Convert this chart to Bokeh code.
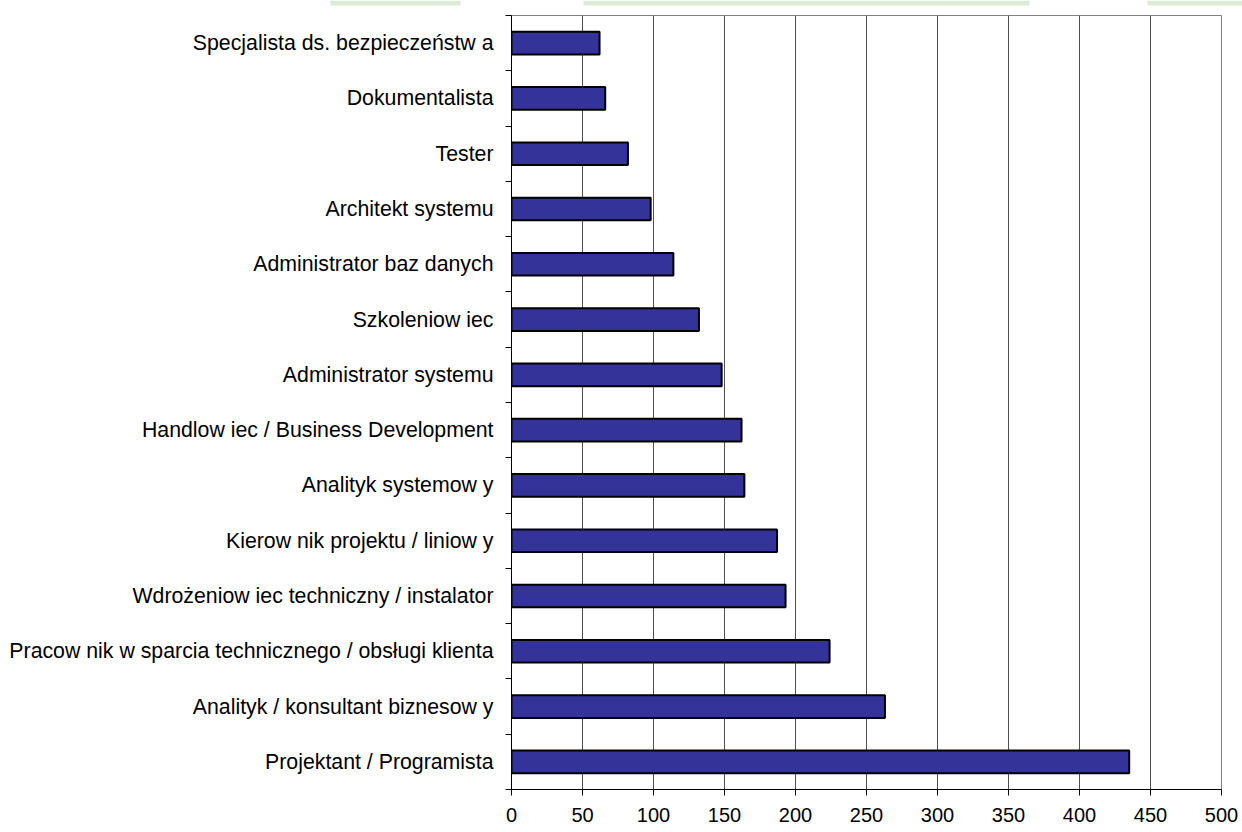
from bokeh.plotting import figure
from bokeh.models import Range1d, FixedTicker, ColumnDataSource
from bokeh.layouts import column
from bokeh.embed import file_html
from bokeh.resources import INLINE

# categories from top to bottom as shown
categories = [
    "Specjalista ds. bezpieczeństw a",
    "Dokumentalista",
    "Tester",
    "Architekt systemu",
    "Administrator baz danych",
    "Szkoleniow iec",
    "Administrator systemu",
    "Handlow iec / Business Development",
    "Analityk systemow y",
    "Kierow nik projektu / liniow y",
    "Wdrożeniow iec techniczny / instalator",
    "Pracow nik w sparcia technicznego / obsługi klienta",
    "Analityk / konsultant biznesow y",
    "Projektant / Programista",
]
values = [62, 66, 82, 98, 114, 132, 148, 162, 164, 187, 193, 224, 263, 435]
x_ticks = [0, 50, 100, 150, 200, 250, 300, 350, 400, 450, 500]

# faint page decoration strips above the chart (page pixels)
strip_left = [330, 583, 1147]
strip_right = [460, 1029, 1242]

n = len(categories)
ypos = [n - 1 - i + 0.5 for i in range(n)]
source = ColumnDataSource(dict(cat=categories, val=values, y=ypos))

W = 1242
TOP_H = 14
H = 832 - TOP_H

top = figure(width=W, height=TOP_H, output_backend="svg", toolbar_location=None,
             x_range=Range1d(0, W), y_range=Range1d(0, TOP_H),
             x_axis_type=None, y_axis_type=None,
             min_border=0, min_border_left=0, min_border_right=0,
             min_border_top=0, min_border_bottom=0)
top.frame_align = False
top.outline_line_color = None
top.background_fill_color = "white"
top.border_fill_color = "white"
top.xgrid.visible = False
top.ygrid.visible = False
top.quad(left=strip_left, right=strip_right, top=TOP_H, bottom=TOP_H - 5,
         fill_color="#dcebd8", line_color=None)

p = figure(width=W, height=H, output_backend="svg", toolbar_location=None,
           x_range=Range1d(0, 500), y_range=Range1d(0, n),
           min_border_left=511, min_border_top=1, min_border_right=21,
           min_border_bottom=43)
p.frame_align = False
p.background_fill_color = "white"
p.border_fill_color = "white"
p.outline_line_color = "#808080"
p.outline_line_width = 1

p.hbar(y="y", right="val", left=0, height=0.41, source=source,
       fill_color="#333399", line_color="black", line_width=2)

font = "Liberation Sans"

xa = p.xaxis[0]
xa.ticker = FixedTicker(ticks=x_ticks)
xa.axis_line_color = "black"
xa.axis_line_width = 1
xa.major_tick_in = 0
xa.major_tick_out = 6
xa.minor_tick_out = 0
xa.minor_tick_in = 0
xa.major_tick_line_color = "black"
xa.major_label_text_font = font
xa.major_label_text_font_size = "20px"
xa.major_label_text_color = "black"
xa.major_label_standoff = 12

ya = p.yaxis[0]
ya.ticker = FixedTicker(ticks=ypos, minor_ticks=list(range(n + 1)))
ya.major_label_overrides = {y: c for y, c in zip(ypos, categories)}
ya.axis_line_color = "black"
ya.axis_line_width = 1
ya.major_tick_in = 0
ya.major_tick_out = 0
ya.major_tick_line_color = None
ya.minor_tick_in = 0
ya.minor_tick_out = 6
ya.minor_tick_line_color = "black"
ya.major_label_text_font = font
ya.major_label_text_font_size = "21.3px"
ya.major_label_text_color = "black"
ya.major_label_standoff = 12

p.xgrid.ticker = FixedTicker(ticks=x_ticks)
p.xgrid.grid_line_color = "#505050"
p.xgrid.grid_line_width = 1
p.ygrid.grid_line_color = None

layout = column(top, p, spacing=0)
open("out.html", "w").write(file_html(layout, INLINE))
